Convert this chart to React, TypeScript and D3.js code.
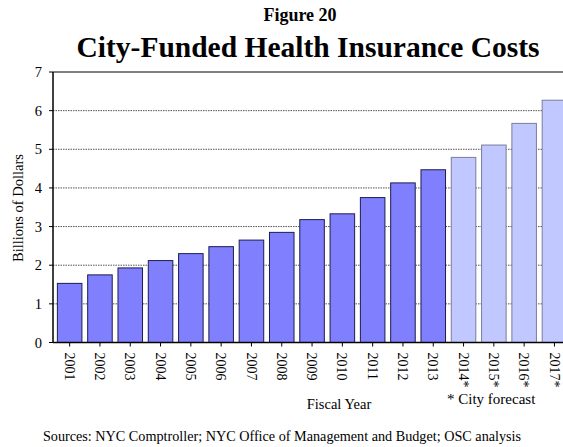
import React from "react";
import * as d3 from "d3";

const years = ["2001","2002","2003","2004","2005","2006","2007","2008","2009","2010","2011","2012","2013","2014*","2015*","2016*","2017*"];
const costs = [1.53,1.75,1.93,2.12,2.3,2.48,2.65,2.85,3.18,3.33,3.75,4.13,4.47,4.79,5.11,5.67,6.27];
const forecast = [false,false,false,false,false,false,false,false,false,false,false,false,false,true,true,true,true];
const yTicks = [0,1,2,3,4,5,6,7];

const W = 563, H = 447;
const left = 53, top = 72, bottom = 342.5;
const step = 30.3;
const right = left + step * years.length + 1.5;

export default function App() {
  const x = d3.scaleBand<string>().domain(years).range([left + 1.5, right]).paddingInner(0.19).paddingOuter(0.095);
  const y = d3.scaleLinear().domain([0, 7]).range([bottom, top]);
  const font = "'Liberation Serif', 'Times New Roman', serif";
  return (
    <svg width={W} height={H} style={{ position: "absolute", left: 0, top: 0, background: "#fff" }} fontFamily={font}>
      <text x={300} y={21} textAnchor="middle" fontSize={18} fontWeight="bold">Figure 20</text>
      <text x={308} y={57} textAnchor="middle" fontSize={29.5} fontWeight="bold">City-Funded Health Insurance Costs</text>
      {yTicks.slice(1, 7).map(t => (
        <line key={"g" + t} x1={left} x2={W} y1={y(t)} y2={y(t)} stroke="#555" strokeWidth={1} strokeDasharray="1.5,1" />
      ))}
      <line x1={left} x2={W} y1={top} y2={top} stroke="#000" strokeWidth={1} />
      {yTicks.map(t => (
        <g key={"t" + t}>
          <line x1={left - 4} x2={left} y1={y(t)} y2={y(t)} stroke="#000" />
          <text x={42} y={y(t)} dy="0.35em" textAnchor="end" fontSize={14.5}>{t}</text>
        </g>
      ))}
      {years.map((yr, i) => (
        <rect key={yr} x={x(yr)} y={y(costs[i])} width={x.bandwidth()} height={bottom - y(costs[i])}
          fill={forecast[i] ? "#C0C8FF" : "#8080FF"} stroke={forecast[i] ? "#7a7d99" : "#1c1c50"} strokeWidth={1} />
      ))}
      <line x1={left} x2={left} y1={top} y2={bottom} stroke="#000" strokeWidth={1.5} />
      <line x1={left} x2={W} y1={bottom} y2={bottom} stroke="#000" strokeWidth={1.5} />
      {years.map(yr => {
        const cx = (x(yr) as number) + x.bandwidth() / 2;
        return (
          <g key={"l" + yr}>
            <line x1={cx} x2={cx} y1={bottom} y2={bottom + 4} stroke="#000" />
            <text transform={`translate(${cx},${bottom + 10}) rotate(90)`} dy="0.35em" fontSize={14}>{yr}</text>
          </g>
        );
      })}
      <text transform={`translate(18,208) rotate(-90)`} dy="0.35em" textAnchor="middle" fontSize={14.5}>Billions of Dollars</text>
      <text x={339} y={409} textAnchor="middle" fontSize={14.5}>Fiscal Year</text>
      <text x={447} y={404} fontSize={15}>* City forecast</text>
      <text x={282} y={441} textAnchor="middle" fontSize={14.2}>Sources: NYC Comptroller; NYC Office of Management and Budget; OSC analysis</text>
    </svg>
  );
}
